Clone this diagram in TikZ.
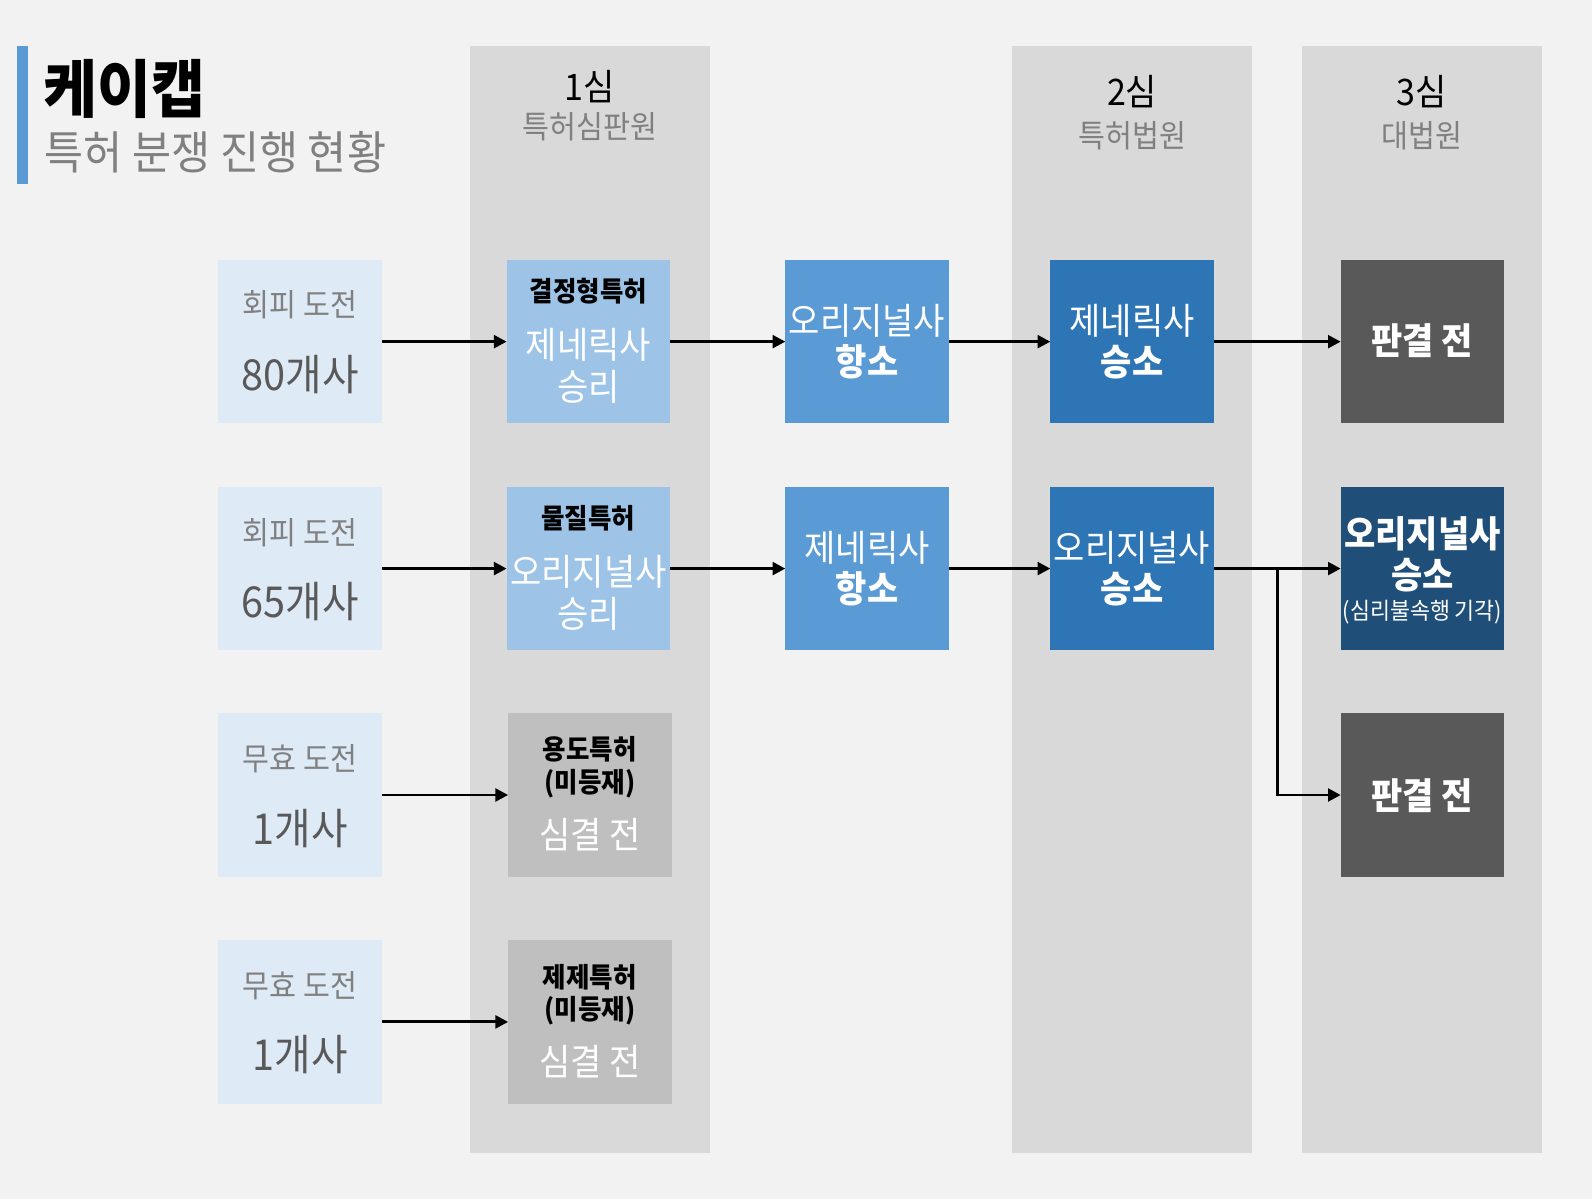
\documentclass[tikz,border=0pt]{standalone}
\usepackage{fontspec}
\setmainfont{Noto Sans CJK KR}[FakeStretch=0.93]
\usetikzlibrary{arrows.meta}
\newcommand\myfs[1]{\fontsize{#1}{#1}\selectfont}
\definecolor{bgc}{HTML}{F2F2F2}
\definecolor{colgray}{HTML}{D9D9D9}
\definecolor{lightb}{HTML}{DEEAF6}
\definecolor{midb}{HTML}{9DC3E6}
\definecolor{boxgray}{HTML}{BFBFBF}
\definecolor{appealb}{HTML}{5B9BD5}
\definecolor{courtb}{HTML}{2E75B6}
\definecolor{darkg}{HTML}{595959}
\definecolor{navy}{HTML}{1F4E79}
\definecolor{graytxt}{HTML}{808080}
\definecolor{cnttxt}{HTML}{595959}
\begin{document}
\begin{tikzpicture}[x=1pt,y=-1pt,
 box/.style={minimum width=161pt, minimum height=161pt, inner sep=0pt, outer sep=0pt},
 col/.style={fill=colgray, minimum width=236pt, minimum height=1091pt, inner sep=0pt, outer sep=0pt, anchor=north},
 t/.style={anchor=base, inner sep=0pt},
 lab/.style={t, font=\myfs{31}, text=graytxt},
 cnt/.style={t, font=\myfs{42}, text=cnttxt},
 small/.style={t, font=\myfs{27}\bfseries, text=black},
 big/.style={t, font=\myfs{36}, text=white},
 bigb/.style={t, font=\myfs{36}\bfseries, text=white},
 arr/.style={line width=2.9pt, -{Triangle[length=12.5pt,width=12.5pt]}},
]
\useasboundingbox[fill=bgc] (0,0) rectangle (1568,1181);
% title
\fill[appealb] (17,45) rectangle (28,181);
\node[anchor=base west, inner sep=0pt, font=\myfs{62}\bfseries] (title) at (43,111) {케이캡};
\node[anchor=base west, inner sep=0pt, font=\myfs{45}, text=graytxt] (subtitle) at (44,166.5) {특허 분쟁 진행 현황};
% columns
\node[col] (col1) at (581,45) {};
\node[col] (col2) at (1115,45) {};
\node[col] (col3) at (1400.5,45) {};
\node[t, font=\myfs{36}] (h1) at (581,99) {1심};
\node[t, font=\myfs{31}, text=graytxt] (h1s) at (581,136.5) {특허심판원};
\node[t, font=\myfs{36}] (h2) at (1115,104) {2심};
\node[t, font=\myfs{31}, text=graytxt] (h2s) at (1115,145.5) {특허법원};
\node[t, font=\myfs{36}] (h3) at (1400.5,104) {3심};
\node[t, font=\myfs{31}, text=graytxt] (h3s) at (1400.5,145.5) {대법원};
% left boxes
\node[box, fill=lightb] (a1) at (295.5,336.5) {};
\node[box, fill=lightb] (a2) at (295.5,560) {};
\node[box, fill=lightb] (a3) at (295.5,783) {};
\node[box, fill=lightb] (a4) at (295.5,1006.5) {};
\node[lab] (a1l) at (295.5,312) {회피 도전};
\node[cnt] (a1c) at (295.5,384.5) {80개사};
\node[lab] (a2l) at (295.5,536) {회피 도전};
\node[cnt] (a2c) at (295.5,608.5) {65개사};
\node[lab] (a3l) at (295.5,759) {무효 도전};
\node[cnt] (a3c) at (295.5,831.5) {1개사};
\node[lab] (a4l) at (295.5,982) {무효 도전};
\node[cnt] (a4c) at (295.5,1054.5) {1개사};
% first instance boxes
\node[box, fill=midb] (b1) at (579.5,336.5) {};
\node[box, fill=midb] (b2) at (579.5,560) {};
\node[box, fill=boxgray] (b3) at (581,783) {};
\node[box, fill=boxgray] (b4) at (581,1006.5) {};
\node[small] (b1a) at (579.5,297) {결정형특허};
\node[big] (b1b) at (579.5,353) {제네릭사};
\node[big] (b1c) at (579.5,394) {승리};
\node[small] (b2a) at (579.5,521) {물질특허};
\node[big] (b2b) at (579.5,577) {오리지널사};
\node[big] (b2c) at (579.5,618) {승리};
\node[small] (b3a) at (581,748) {용도특허};
\node[small] (b3b) at (581,781) {(미등재)};
\node[big] (b3c) at (581,836) {심결 전};
\node[small] (b4a) at (581,973) {제제특허};
\node[small] (b4b) at (581,1004) {(미등재)};
\node[big] (b4c) at (581,1059) {심결 전};
% appeal boxes
\node[box, fill=appealb] (p1) at (854,336.5) {};
\node[box, fill=appealb] (p2) at (854,560) {};
\node[big] (p1a) at (854,329) {오리지널사};
\node[bigb] (p1b) at (854,370) {항소};
\node[big] (p2a) at (854,553) {제네릭사};
\node[bigb] (p2b) at (854,593) {항소};
% second instance
\node[box, fill=courtb] (c1) at (1115,336.5) {};
\node[box, fill=courtb] (c2) at (1115,560) {};
\node[big] (c1a) at (1115,329) {제네릭사};
\node[bigb] (c1b) at (1115,370) {승소};
\node[big] (c2a) at (1115,553) {오리지널사};
\node[bigb] (c2b) at (1115,593) {승소};
% third instance
\node[box, fill=darkg] (d1) at (1401,336.5) {};
\node[box, fill=navy] (d2) at (1401,560) {};
\node[box, fill=darkg] (d3) at (1401,783) {};
\node[bigb] (d1a) at (1401,349) {판결 전};
\node[bigb] (d2a) at (1401,539) {오리지널사};
\node[bigb] (d2b) at (1401,580) {승소};
\node[t, font=\myfs{23}, text=white] (d2c) at (1401,610.5) {(심리불속행 기각)};
\node[bigb] (d3a) at (1401,797) {판결 전};
% arrows
\draw[arr] (a1.east) -- (b1.west);
\draw[arr] (b1.east) -- (p1.west);
\draw[arr] (p1.east) -- (c1.west);
\draw[arr] (c1.east) -- (d1.west);
\draw[arr] (a2.east) -- (b2.west);
\draw[arr] (b2.east) -- (p2.west);
\draw[arr] (p2.east) -- (c2.west);
\draw[arr] (c2.east) -- (d2.west);
\coordinate (j) at (1258,560);
\draw[arr] (j) |- (d3.west);
\draw[arr] (a3.east) -- (b3.west);
\draw[arr] (a4.east) -- (b4.west);
\end{tikzpicture}
\end{document}
